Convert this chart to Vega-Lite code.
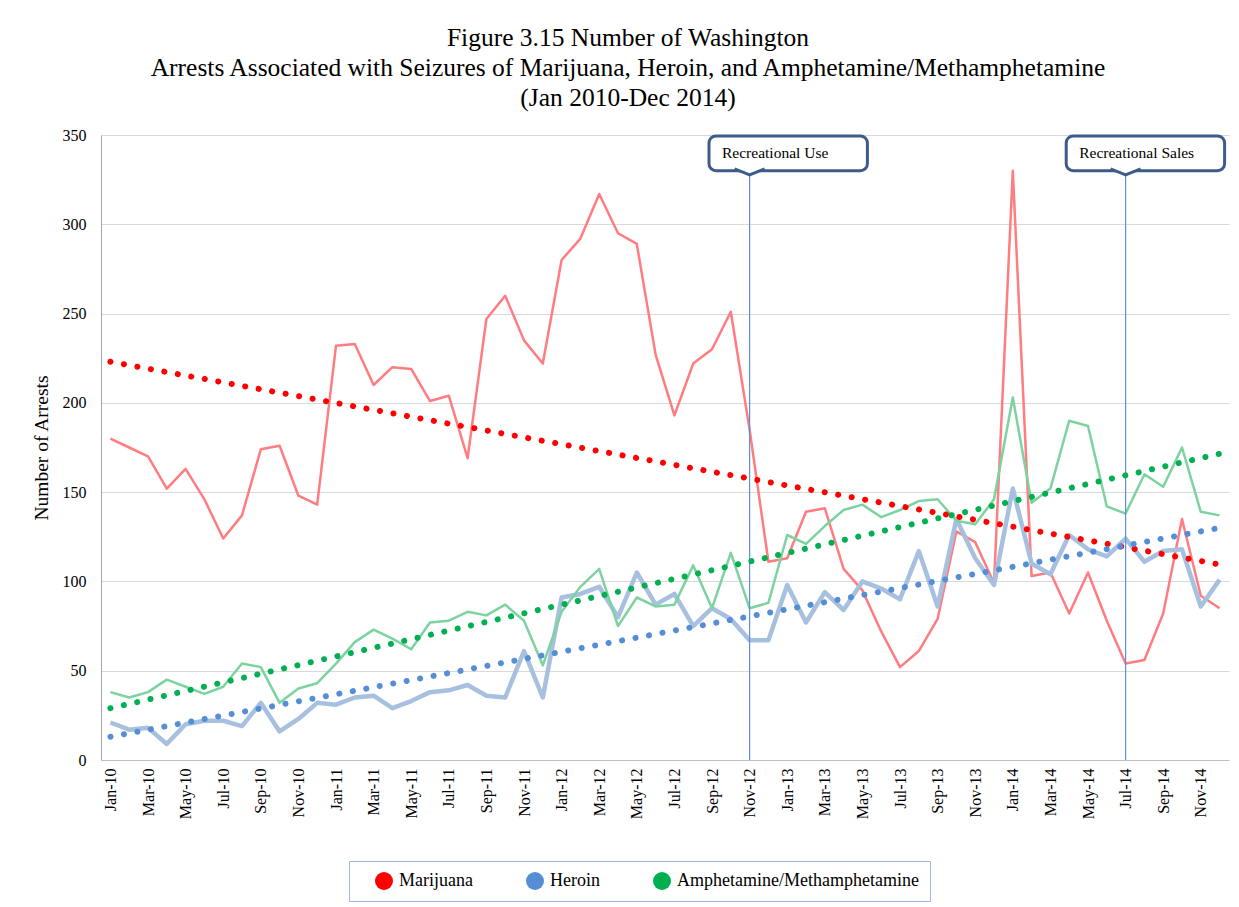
{
  "$schema": "https://vega.github.io/schema/vega-lite/v6.json",
  "width": 1128,
  "height": 625,
  "autosize": {"type": "none"},
  "padding": {"left": 101, "top": 135, "right": 10, "bottom": 147},
  "background": "white",
  "config": {"view": {"stroke": null}, "font": "Liberation Serif", "legend": {"labelFont": "Liberation Serif"}},
  "title": {
    "text": ["Figure 3.15 Number of Washington", "Arrests Associated with Seizures of Marijuana, Heroin, and Amphetamine/Methamphetamine", "(Jan 2010-Dec 2014)"],
    "font": "Liberation Serif", "fontSize": 25.5, "fontWeight": "normal", "color": "black",
    "lineHeight": 30, "anchor": "middle", "frame": "group", "dx": -37, "offset": 16
  },
  "datasets": {
    "arrests": [
      {"month":"Jan-10","drug":"Marijuana","arrests":180},{"month":"Feb-10","drug":"Marijuana","arrests":175},{"month":"Mar-10","drug":"Marijuana","arrests":170},{"month":"Apr-10","drug":"Marijuana","arrests":152},{"month":"May-10","drug":"Marijuana","arrests":163},{"month":"Jun-10","drug":"Marijuana","arrests":146},{"month":"Jul-10","drug":"Marijuana","arrests":124},{"month":"Aug-10","drug":"Marijuana","arrests":137},{"month":"Sep-10","drug":"Marijuana","arrests":174},{"month":"Oct-10","drug":"Marijuana","arrests":176},{"month":"Nov-10","drug":"Marijuana","arrests":148},{"month":"Dec-10","drug":"Marijuana","arrests":143},
      {"month":"Jan-11","drug":"Marijuana","arrests":232},{"month":"Feb-11","drug":"Marijuana","arrests":233},{"month":"Mar-11","drug":"Marijuana","arrests":210},{"month":"Apr-11","drug":"Marijuana","arrests":220},{"month":"May-11","drug":"Marijuana","arrests":219},{"month":"Jun-11","drug":"Marijuana","arrests":201},{"month":"Jul-11","drug":"Marijuana","arrests":204},{"month":"Aug-11","drug":"Marijuana","arrests":169},{"month":"Sep-11","drug":"Marijuana","arrests":247},{"month":"Oct-11","drug":"Marijuana","arrests":260},{"month":"Nov-11","drug":"Marijuana","arrests":235},{"month":"Dec-11","drug":"Marijuana","arrests":222},
      {"month":"Jan-12","drug":"Marijuana","arrests":280},{"month":"Feb-12","drug":"Marijuana","arrests":292},{"month":"Mar-12","drug":"Marijuana","arrests":317},{"month":"Apr-12","drug":"Marijuana","arrests":295},{"month":"May-12","drug":"Marijuana","arrests":289},{"month":"Jun-12","drug":"Marijuana","arrests":227},{"month":"Jul-12","drug":"Marijuana","arrests":193},{"month":"Aug-12","drug":"Marijuana","arrests":222},{"month":"Sep-12","drug":"Marijuana","arrests":230},{"month":"Oct-12","drug":"Marijuana","arrests":251},{"month":"Nov-12","drug":"Marijuana","arrests":185},{"month":"Dec-12","drug":"Marijuana","arrests":111},
      {"month":"Jan-13","drug":"Marijuana","arrests":113},{"month":"Feb-13","drug":"Marijuana","arrests":139},{"month":"Mar-13","drug":"Marijuana","arrests":141},{"month":"Apr-13","drug":"Marijuana","arrests":107},{"month":"May-13","drug":"Marijuana","arrests":95},{"month":"Jun-13","drug":"Marijuana","arrests":72},{"month":"Jul-13","drug":"Marijuana","arrests":52},{"month":"Aug-13","drug":"Marijuana","arrests":61},{"month":"Sep-13","drug":"Marijuana","arrests":79},{"month":"Oct-13","drug":"Marijuana","arrests":128},{"month":"Nov-13","drug":"Marijuana","arrests":122},{"month":"Dec-13","drug":"Marijuana","arrests":99},
      {"month":"Jan-14","drug":"Marijuana","arrests":330},{"month":"Feb-14","drug":"Marijuana","arrests":103},{"month":"Mar-14","drug":"Marijuana","arrests":105},{"month":"Apr-14","drug":"Marijuana","arrests":82},{"month":"May-14","drug":"Marijuana","arrests":105},{"month":"Jun-14","drug":"Marijuana","arrests":78},{"month":"Jul-14","drug":"Marijuana","arrests":54},{"month":"Aug-14","drug":"Marijuana","arrests":56},{"month":"Sep-14","drug":"Marijuana","arrests":82},{"month":"Oct-14","drug":"Marijuana","arrests":135},{"month":"Nov-14","drug":"Marijuana","arrests":92},{"month":"Dec-14","drug":"Marijuana","arrests":85},
      {"month":"Jan-10","drug":"Heroin","arrests":21},{"month":"Feb-10","drug":"Heroin","arrests":17},{"month":"Mar-10","drug":"Heroin","arrests":18},{"month":"Apr-10","drug":"Heroin","arrests":9},{"month":"May-10","drug":"Heroin","arrests":20},{"month":"Jun-10","drug":"Heroin","arrests":22},{"month":"Jul-10","drug":"Heroin","arrests":22},{"month":"Aug-10","drug":"Heroin","arrests":19},{"month":"Sep-10","drug":"Heroin","arrests":32},{"month":"Oct-10","drug":"Heroin","arrests":16},{"month":"Nov-10","drug":"Heroin","arrests":23},{"month":"Dec-10","drug":"Heroin","arrests":32},
      {"month":"Jan-11","drug":"Heroin","arrests":31},{"month":"Feb-11","drug":"Heroin","arrests":35},{"month":"Mar-11","drug":"Heroin","arrests":36},{"month":"Apr-11","drug":"Heroin","arrests":29},{"month":"May-11","drug":"Heroin","arrests":33},{"month":"Jun-11","drug":"Heroin","arrests":38},{"month":"Jul-11","drug":"Heroin","arrests":39},{"month":"Aug-11","drug":"Heroin","arrests":42},{"month":"Sep-11","drug":"Heroin","arrests":36},{"month":"Oct-11","drug":"Heroin","arrests":35},{"month":"Nov-11","drug":"Heroin","arrests":61},{"month":"Dec-11","drug":"Heroin","arrests":35},
      {"month":"Jan-12","drug":"Heroin","arrests":91},{"month":"Feb-12","drug":"Heroin","arrests":93},{"month":"Mar-12","drug":"Heroin","arrests":97},{"month":"Apr-12","drug":"Heroin","arrests":80},{"month":"May-12","drug":"Heroin","arrests":105},{"month":"Jun-12","drug":"Heroin","arrests":87},{"month":"Jul-12","drug":"Heroin","arrests":93},{"month":"Aug-12","drug":"Heroin","arrests":75},{"month":"Sep-12","drug":"Heroin","arrests":85},{"month":"Oct-12","drug":"Heroin","arrests":79},{"month":"Nov-12","drug":"Heroin","arrests":67},{"month":"Dec-12","drug":"Heroin","arrests":67},
      {"month":"Jan-13","drug":"Heroin","arrests":98},{"month":"Feb-13","drug":"Heroin","arrests":77},{"month":"Mar-13","drug":"Heroin","arrests":94},{"month":"Apr-13","drug":"Heroin","arrests":84},{"month":"May-13","drug":"Heroin","arrests":100},{"month":"Jun-13","drug":"Heroin","arrests":96},{"month":"Jul-13","drug":"Heroin","arrests":90},{"month":"Aug-13","drug":"Heroin","arrests":117},{"month":"Sep-13","drug":"Heroin","arrests":86},{"month":"Oct-13","drug":"Heroin","arrests":135},{"month":"Nov-13","drug":"Heroin","arrests":113},{"month":"Dec-13","drug":"Heroin","arrests":98},
      {"month":"Jan-14","drug":"Heroin","arrests":152},{"month":"Feb-14","drug":"Heroin","arrests":110},{"month":"Mar-14","drug":"Heroin","arrests":104},{"month":"Apr-14","drug":"Heroin","arrests":126},{"month":"May-14","drug":"Heroin","arrests":118},{"month":"Jun-14","drug":"Heroin","arrests":114},{"month":"Jul-14","drug":"Heroin","arrests":124},{"month":"Aug-14","drug":"Heroin","arrests":111},{"month":"Sep-14","drug":"Heroin","arrests":117},{"month":"Oct-14","drug":"Heroin","arrests":118},{"month":"Nov-14","drug":"Heroin","arrests":86},{"month":"Dec-14","drug":"Heroin","arrests":101},
      {"month":"Jan-10","drug":"Amphetamine/Methamphetamine","arrests":38},{"month":"Feb-10","drug":"Amphetamine/Methamphetamine","arrests":35},{"month":"Mar-10","drug":"Amphetamine/Methamphetamine","arrests":38},{"month":"Apr-10","drug":"Amphetamine/Methamphetamine","arrests":45},{"month":"May-10","drug":"Amphetamine/Methamphetamine","arrests":41},{"month":"Jun-10","drug":"Amphetamine/Methamphetamine","arrests":37},{"month":"Jul-10","drug":"Amphetamine/Methamphetamine","arrests":41},{"month":"Aug-10","drug":"Amphetamine/Methamphetamine","arrests":54},{"month":"Sep-10","drug":"Amphetamine/Methamphetamine","arrests":52},{"month":"Oct-10","drug":"Amphetamine/Methamphetamine","arrests":32},{"month":"Nov-10","drug":"Amphetamine/Methamphetamine","arrests":40},{"month":"Dec-10","drug":"Amphetamine/Methamphetamine","arrests":43},
      {"month":"Jan-11","drug":"Amphetamine/Methamphetamine","arrests":54},{"month":"Feb-11","drug":"Amphetamine/Methamphetamine","arrests":66},{"month":"Mar-11","drug":"Amphetamine/Methamphetamine","arrests":73},{"month":"Apr-11","drug":"Amphetamine/Methamphetamine","arrests":68},{"month":"May-11","drug":"Amphetamine/Methamphetamine","arrests":62},{"month":"Jun-11","drug":"Amphetamine/Methamphetamine","arrests":77},{"month":"Jul-11","drug":"Amphetamine/Methamphetamine","arrests":78},{"month":"Aug-11","drug":"Amphetamine/Methamphetamine","arrests":83},{"month":"Sep-11","drug":"Amphetamine/Methamphetamine","arrests":81},{"month":"Oct-11","drug":"Amphetamine/Methamphetamine","arrests":87},{"month":"Nov-11","drug":"Amphetamine/Methamphetamine","arrests":78},{"month":"Dec-11","drug":"Amphetamine/Methamphetamine","arrests":53},
      {"month":"Jan-12","drug":"Amphetamine/Methamphetamine","arrests":83},{"month":"Feb-12","drug":"Amphetamine/Methamphetamine","arrests":97},{"month":"Mar-12","drug":"Amphetamine/Methamphetamine","arrests":107},{"month":"Apr-12","drug":"Amphetamine/Methamphetamine","arrests":75},{"month":"May-12","drug":"Amphetamine/Methamphetamine","arrests":91},{"month":"Jun-12","drug":"Amphetamine/Methamphetamine","arrests":86},{"month":"Jul-12","drug":"Amphetamine/Methamphetamine","arrests":87},{"month":"Aug-12","drug":"Amphetamine/Methamphetamine","arrests":109},{"month":"Sep-12","drug":"Amphetamine/Methamphetamine","arrests":85},{"month":"Oct-12","drug":"Amphetamine/Methamphetamine","arrests":116},{"month":"Nov-12","drug":"Amphetamine/Methamphetamine","arrests":85},{"month":"Dec-12","drug":"Amphetamine/Methamphetamine","arrests":88},
      {"month":"Jan-13","drug":"Amphetamine/Methamphetamine","arrests":126},{"month":"Feb-13","drug":"Amphetamine/Methamphetamine","arrests":121},{"month":"Mar-13","drug":"Amphetamine/Methamphetamine","arrests":131},{"month":"Apr-13","drug":"Amphetamine/Methamphetamine","arrests":140},{"month":"May-13","drug":"Amphetamine/Methamphetamine","arrests":143},{"month":"Jun-13","drug":"Amphetamine/Methamphetamine","arrests":136},{"month":"Jul-13","drug":"Amphetamine/Methamphetamine","arrests":140},{"month":"Aug-13","drug":"Amphetamine/Methamphetamine","arrests":145},{"month":"Sep-13","drug":"Amphetamine/Methamphetamine","arrests":146},{"month":"Oct-13","drug":"Amphetamine/Methamphetamine","arrests":134},{"month":"Nov-13","drug":"Amphetamine/Methamphetamine","arrests":132},{"month":"Dec-13","drug":"Amphetamine/Methamphetamine","arrests":146},
      {"month":"Jan-14","drug":"Amphetamine/Methamphetamine","arrests":203},{"month":"Feb-14","drug":"Amphetamine/Methamphetamine","arrests":144},{"month":"Mar-14","drug":"Amphetamine/Methamphetamine","arrests":152},{"month":"Apr-14","drug":"Amphetamine/Methamphetamine","arrests":190},{"month":"May-14","drug":"Amphetamine/Methamphetamine","arrests":187},{"month":"Jun-14","drug":"Amphetamine/Methamphetamine","arrests":142},{"month":"Jul-14","drug":"Amphetamine/Methamphetamine","arrests":138},{"month":"Aug-14","drug":"Amphetamine/Methamphetamine","arrests":160},{"month":"Sep-14","drug":"Amphetamine/Methamphetamine","arrests":153},{"month":"Oct-14","drug":"Amphetamine/Methamphetamine","arrests":175},{"month":"Nov-14","drug":"Amphetamine/Methamphetamine","arrests":139},{"month":"Dec-14","drug":"Amphetamine/Methamphetamine","arrests":137}
    ],
    "trend": [
      {"month":"Jan-10","series":"Marijuana","trend":223},{"month":"Dec-14","series":"Marijuana","trend":109.5},
      {"month":"Jan-10","series":"Heroin","trend":13},{"month":"Dec-14","series":"Heroin","trend":130},
      {"month":"Jan-10","series":"Amphetamine/Methamphetamine","trend":29},{"month":"Dec-14","series":"Amphetamine/Methamphetamine","trend":171.5}
    ],
    "events": [
      {"event":"Recreational Use","month":"Nov-12","boxStart":"Sep-12","boxEnd":"May-13"},
      {"event":"Recreational Sales","month":"Jul-14","boxStart":"Apr-14","boxEnd":"Dec-14"}
    ]
  },
  "layer": [
    {
      "data": {"name": "arrests"},
      "mark": {"type": "line", "strokeJoin": "round"},
      "encoding": {
        "x": {
          "field": "month", "type": "ordinal", "sort": null,
          "scale": {"type": "point", "padding": 0.5, "domain": ["Jan-10","Feb-10","Mar-10","Apr-10","May-10","Jun-10","Jul-10","Aug-10","Sep-10","Oct-10","Nov-10","Dec-10","Jan-11","Feb-11","Mar-11","Apr-11","May-11","Jun-11","Jul-11","Aug-11","Sep-11","Oct-11","Nov-11","Dec-11","Jan-12","Feb-12","Mar-12","Apr-12","May-12","Jun-12","Jul-12","Aug-12","Sep-12","Oct-12","Nov-12","Dec-12","Jan-13","Feb-13","Mar-13","Apr-13","May-13","Jun-13","Jul-13","Aug-13","Sep-13","Oct-13","Nov-13","Dec-13","Jan-14","Feb-14","Mar-14","Apr-14","May-14","Jun-14","Jul-14","Aug-14","Sep-14","Oct-14","Nov-14","Dec-14"]},
          "axis": {
            "title": null,
            "values": ["Jan-10","Mar-10","May-10","Jul-10","Sep-10","Nov-10","Jan-11","Mar-11","May-11","Jul-11","Sep-11","Nov-11","Jan-12","Mar-12","May-12","Jul-12","Sep-12","Nov-12","Jan-13","Mar-13","May-13","Jul-13","Sep-13","Nov-13","Jan-14","Mar-14","May-14","Jul-14","Sep-14","Nov-14"],
            "labelAngle": -90, "labelFont": "Liberation Serif", "labelFontSize": 16, "labelColor": "black",
            "labelPadding": 8, "ticks": false, "grid": false, "domainColor": "#BFBFBF", "labelOverlap": false
          }
        },
        "y": {
          "field": "arrests", "type": "quantitative",
          "scale": {"domain": [0, 350], "nice": false},
          "axis": {
            "title": "Number of Arrests", "values": [0,50,100,150,200,250,300,350],
            "labelFont": "Liberation Serif", "labelFontSize": 16, "labelColor": "black", "labelPadding": 15,
            "ticks": false, "domainColor": "#A6A6A6", "gridColor": "#D9D9D9",
            "titleFont": "Liberation Serif", "titleFontSize": 19.5, "titleFontWeight": "normal", "titleColor": "black", "titlePadding": 11
          }
        },
        "stroke": {
          "field": "drug", "type": "nominal",
          "scale": {"domain": ["Heroin","Marijuana","Amphetamine/Methamphetamine"], "range": ["#A7C0DF","#FF7C80","#7DD3A0"]},
          "legend": null
        },
        "strokeWidth": {
          "field": "drug", "type": "nominal",
          "scale": {"type": "ordinal", "domain": ["Amphetamine/Methamphetamine","Heroin","Marijuana"], "range": [2.5, 4.5, 2.5]},
          "legend": null
        }
      }
    },
    {
      "data": {"name": "events"},
      "mark": {"type": "rule", "stroke": "#5B8FDB", "strokeWidth": 1.2},
      "encoding": {
        "x": {"field": "month", "type": "ordinal", "sort": null},
        "y": {"datum": 0},
        "y2": {"datum": 330}
      }
    },
    {
      "data": {"name": "trend"},
      "mark": {"type": "line", "strokeDash": [0.1, 13.6], "strokeCap": "round", "strokeWidth": 6},
      "encoding": {
        "x": {"field": "month", "type": "ordinal", "sort": null},
        "y": {"field": "trend", "type": "quantitative"},
        "color": {
          "field": "series", "type": "nominal",
          "scale": {"domain": ["Marijuana","Heroin","Amphetamine/Methamphetamine"], "range": ["#FF0000","#558ED5","#00B050"]},
          "legend": {
            "title": null, "orient": "none", "legendX": 248, "legendY": 726, "direction": "horizontal",
            "symbolType": "circle", "symbolSize": 324, "symbolStrokeWidth": 0, "symbolDash": [], "symbolOpacity": 1, "symbolOffset": 15,
            "labelFont": "Liberation Serif", "labelFontSize": 18, "labelColor": "black", "labelOffset": 6,
            "columnPadding": 38, "padding": 11, "strokeColor": "#9DB9E3", "fillColor": "white", "labelLimit": 400,
            "encode": {"symbols": {"update": {"fill": {"scale": "color", "field": "value"}, "stroke": {"value": "transparent"}}}}
          }
        }
      }
    },
    {
      "data": {"name": "events"},
      "mark": {"type": "rect", "fill": "white", "stroke": "#3E5C8A", "strokeWidth": 3, "cornerRadius": 7, "xOffset": -3, "x2Offset": 5},
      "encoding": {
        "x": {"field": "boxStart", "type": "ordinal", "sort": null},
        "x2": {"field": "boxEnd"},
        "y": {"datum": 330},
        "y2": {"datum": 349.5}
      }
    },
    {
      "data": {"name": "events"},
      "mark": {"type": "point", "shape": "M -1 -0.12 L 0 0.28 L 1 -0.12", "size": 900, "filled": false, "fill": "white", "fillOpacity": 1, "stroke": "#3E5C8A", "strokeWidth": 3, "opacity": 1, "strokeJoin": "round"},
      "encoding": {
        "x": {"field": "month", "type": "ordinal", "sort": null},
        "y": {"datum": 330}
      }
    },
    {
      "data": {"name": "events"},
      "mark": {"type": "text", "align": "left", "baseline": "middle", "dx": 10, "font": "Liberation Serif", "fontSize": 15.5, "color": "black"},
      "encoding": {
        "x": {"field": "boxStart", "type": "ordinal", "sort": null},
        "y": {"datum": 340},
        "text": {"field": "event"}
      }
    }
  ]
}
